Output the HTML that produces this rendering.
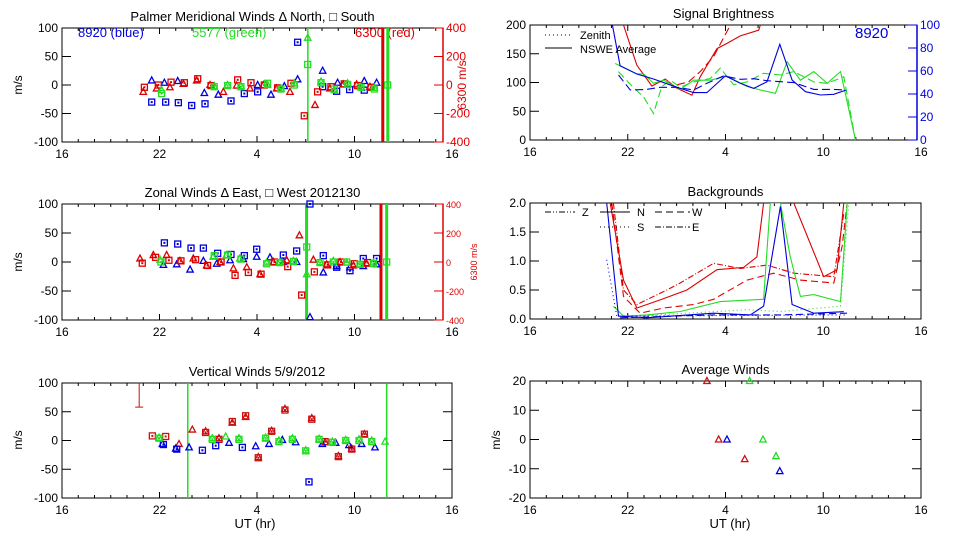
<!DOCTYPE html>
<html><head><meta charset="utf-8"><style>
html,body{margin:0;padding:0;background:#fff;}
svg{display:block;font-family:"Liberation Sans",sans-serif;}
</style></head><body>
<svg id="chart" width="960" height="540" viewBox="0 0 960 540" xmlns="http://www.w3.org/2000/svg"></svg>
<script>
// ---------- DATA (x in hours elapsed since 16 UT; labels 16,22,4,10,16) ----------
const xTickLabels = ["16","22","4","10","16"];
const windTicks = [100,50,0,-50,-100];
const redTicks = [400,200,0,-200,-400];
// Panel 1: meridional
const m_bsT=[5.52,6.38,7.16,7.98,8.80,10.40,11.22,12.04,14.50,16.04,16.90,17.70,18.60];
const m_bsV=[-30,-30,-31,-36,-33,-28,-15,-12,75,-3,-11,-8,-9];
const m_btT=[5.52,6.30,7.12,8.76,9.62,12.04,12.86,13.68,14.50,16.04,16.96,18.60,19.36];
const m_btV=[8,4,7,-14,-17,0,-17,-2,10,25,4,7,4];
const m_rsT=[5.07,5.93,6.71,7.53,8.35,9.17,10.81,11.63,12.45,13.27,14.09,14.91,15.73,16.55,17.37,18.19,19.01];
const m_rsV=[-16,0,20,16,44,-4,36,16,0,-20,12,-216,-48,-12,8,-4,-16];
const m_rtT=[5.00,5.82,6.64,7.47,8.29,9.11,9.93,10.75,11.57,12.39,13.21,14.03,15.57,16.49,17.31,18.13,18.95];
const m_rtV=[-48,-24,-16,8,32,0,-48,-4,-24,0,-24,-48,-140,-24,4,4,-12];
const m_gsT=[6.13,9.37,10.19,11.01,12.65,13.47,14.30,15.12,15.94,16.76,17.58,18.40,19.22,20.04];
const m_gsV=[-15,-3,-1,-3,3,-7,0,36,4,-7,1,-4,-7,0];
const m_gtT=[6.13,9.37,10.19,11.01,12.65,13.47,14.30,15.12,15.94,16.76,17.58,18.40,19.22];
const m_gtV=[-9,-2,0,-2,0,-6,3,83,6,-9,3,-3,-5];
// Panel 2: zonal
const z_bsT=[6.30,7.12,7.94,8.70,9.58,10.40,11.22,11.98,13.62,14.44,15.26,16.08,16.90,17.72,18.54,19.36];
const z_bsV=[33,31,24,24,15,13,11,22,12,19,100,11,-9,-15,6,6];
const z_btT=[6.24,7.06,7.88,8.70,9.52,10.34,11.16,11.98,12.80,13.62,14.44,15.26,16.08,16.90,17.72,18.54,19.36];
const z_btV=[-5,-4,-13,2,-3,3,5,9,8,0,0,-95,-18,-7,-9,-7,-4];
const z_rsT=[4.94,5.76,6.58,7.32,8.22,8.96,9.79,10.65,11.47,12.25,13.07,13.89,14.75,15.53,16.35,17.17,17.99,18.81];
const z_rsV=[-8,32,12,8,16,-24,0,-92,-72,-84,0,-32,-228,-68,-20,0,-12,-4];
const z_rtT=[4.80,5.62,6.44,7.26,8.08,8.90,9.73,10.55,11.37,12.19,13.01,13.83,14.61,15.47,16.29,17.11,17.93,18.75];
const z_rtV=[24,48,48,8,24,-24,0,-44,-36,-84,0,12,184,16,-16,0,-24,-12];
const z_gsT=[6.09,9.37,10.19,11.01,12.59,13.41,14.24,15.06,15.88,16.70,17.52,18.34,19.16,19.98];
const z_gsV=[0,11,12,5,-3,-1,1,26,-1,0,0,-4,-3,0];
const z_gtT=[6.03,9.30,10.12,10.94,12.59,13.41,14.24,15.06,15.88,16.70,17.52,18.34,19.16];
const z_gtV=[4,9,12,6,-1,0,2,-21,0,2,-1,-4,-1];
// Panel 3: vertical
const v_rsT=[5.56,6.38,8.84,9.66,10.48,11.30,12.08,12.90,13.72,15.37,16.19,17.01,17.83,18.61];
const v_rsV=[8,7,14,2,33,43,-30,16,53,37,-2,-28,-15,11];
const v_rtT=[7.20,8.02,8.84,9.66,10.48,11.30,12.08,12.90,13.72,15.37,16.19,17.01,17.83,18.61];
const v_rtV=[-6,19,16,4,31,41,-29,17,55,39,-3,-27,-14,11];
const v_bsT=[6.24,7.06,8.64,9.46,11.10,15.20];
const v_bsV=[-7,-15,-17,-9,-12,-72];
const v_btT=[6.18,7.00,7.82,10.28,11.92,12.74,13.56,14.38,16.02,16.84,17.66,18.44,19.26];
const v_btV=[-6,-14,-12,-4,-10,-6,1,-3,-6,-4,-8,-6,-12];
const v_gsT=[5.97,9.25,10.89,12.53,13.35,14.18,15.00,15.82,16.64,17.46,18.28,19.06];
const v_gsV=[4,2,2,4,-2,2,-18,2,-3,0,0,-2];
const v_gtT=[5.97,9.25,10.07,10.89,12.53,13.35,14.18,15.00,15.82,16.64,17.46,18.28,19.06,19.88];
const v_gtV=[5,4,7,4,5,0,4,-17,3,-2,1,2,0,-2];
// Panel 4: brightness
const b_rsT=[5.74,6.56,7.48,8.30,9.02,9.94,10.45,11.48,12.09,12.91,14.04,14.14];
const b_rsV=[200,130,94,106,90,78,110,159,168,181,191,200];
const b_rdT=[9.02,9.73,10.45,11.27,12.30];
const b_rdV=[96,101,119,145,200];
const b_bsT=[5.06,5.53,6.56,7.58,9.02,10.04,10.86,11.99,12.91,13.73,14.55,15.33,16.09,16.91,17.83,18.65,19.41];
const b_bsV=[100,64.6,57.4,53,45.8,41.2,41.2,55.7,49.3,44.9,50.7,83.2,52.2,42,39.1,39.7,43.5];
const b_bdT=[5.43,6.15,7.17,7.99,9.02,10.04,10.86,11.89,12.91,13.73,14.55,15.37,16.19,17.42,18.65,19.36];
const b_bdV=[56.5,43.5,44,45.8,45.8,43.5,49.3,55.7,52.8,53.3,51.6,50.7,49.9,44,44,43.5];
const b_gsT=[5.23,6.56,6.97,7.58,8.20,9.22,10.04,11.07,12.09,13.32,14.14,15.06,15.78,16.60,17.42,18.24,19.06,19.98];
const b_gsV=[133,115,115,98.6,104,88,104,104,111,93,87,81,136,104,119,98.6,119,0];
const b_gdT=[5.43,6.35,6.97,7.58,8.09,8.61,9.22,10.04,11.07,11.68,12.50,13.32,14.34,15.37,16.19,17.42,18.24,19.26,19.98];
const b_gdV=[119,91,75,46,93,104,92,101,107,125,96,101,116,113,119,101,98.6,110,0];
// Panel 5: backgrounds
const g_rsT=[4.92,5.74,6.56,7.99,9.63,11.48,13.11,13.93,14.34];
const g_rsV=[2.0,0.67,0.19,0.33,0.50,0.85,0.89,1.07,2.0];
const g_rs2T=[16.19,18.03,18.85,19.26];
const g_rs2V=[2.0,0.73,0.85,2.0];
const g_rdT=[5.02,5.74,6.76,8.20,10.04,11.27,13.32,14.96,16.60,18.65,19.16,19.47];
const g_rdV=[2.0,0.39,0.10,0.19,0.25,0.34,0.67,0.79,0.67,0.62,1.25,2.0];
const g_rddT=[5.12,5.74,6.56,8.40,9.22,11.27,12.91,14.55,16.19,18.65,19.26];
const g_rddV=[2.0,0.50,0.25,0.50,0.62,0.96,0.87,0.93,0.79,0.73,1.82];
const g_gsT=[5.12,5.74,7.17,9.22,11.68,14.34,14.75,15.37,15.98,16.60,17.42,19.06,19.47];
const g_gsV=[0.22,0.05,0.07,0.13,0.30,0.34,2.0,2.0,1.07,0.39,0.42,0.30,2.0];
const g_gdT=[6.56,13.32,15.37,19.06,19.57];
const g_gdV=[0.05,0.16,0.13,0.22,2.0];
const g_bsT=[4.71,5.43,7.17,11.27,13.52,14.34,15.37,16.09,17.42,19.26];
const g_bsV=[2.0,0.05,0.02,0.10,0.07,0.22,1.94,0.25,0.10,0.126];
const g_bdT=[5.53,11.27,15.37,19.47];
const g_bdV=[0.02,0.07,0.07,0.10];
const g_bdotT=[4.71,5.33,19.47];
const g_bdotV=[1.02,0.05,0.07];
// Panel 6: average winds
const a_rT=[10.86,11.58,13.18];
const a_rV=[20,0,-6.7];
const a_bT=[12.09,15.33];
const a_bV=[0,-10.8];
const a_gT=[13.48,14.30,15.10];
const a_gV=[20,0,-5.7];

// ---------- DRAWING ----------
const svg=document.getElementById('chart');
const NS='http://www.w3.org/2000/svg';
const BLUE='#0000dd',GREEN='#22dd22',RED='#dd0000',BR='#cc1010';
function mk(tag,attrs,parent){const e=document.createElementNS(NS,tag);for(const k in attrs)e.setAttribute(k,attrs[k]);(parent||svg).appendChild(e);return e;}
function txt(s,x,y,attrs,parent){const e=mk('text',Object.assign({x:x,y:y,'font-size':12,fill:'#000'},attrs||{}),parent);e.textContent=s;return e;}
function axes(P){return {X:t=>P.sx0+(t/24)*(P.sx1-P.sx0),Y:v=>P.y1-(v-P.vmin)/(P.vmax-P.vmin)*(P.y1-P.y0)};}

function frame(P,name,title,yLabels,yVals){
  const g=mk('g',{});
  
  
  const A=axes(P);
  const r=mk('rect',{x:P.fx0,y:P.y0,width:P.fx1-P.fx0,height:P.y1-P.y0,fill:'none',stroke:'#000','stroke-width':1},g);
  
  
  const tt=txt(title,(P.fx0+P.fx1)/2,P.y0-7,{'text-anchor':'middle','font-size':13},g);
  
  
  for(let h=0;h<=24;h++){
    const x=A.X(h); if(x>P.fx1+0.5) continue;
    const L=(h%6===0)?6:3;
    mk('line',{x1:x,y1:P.y1,x2:x,y2:P.y1-L,stroke:'#000'},g);
    mk('line',{x1:x,y1:P.y0,x2:x,y2:P.y0+L,stroke:'#000'},g);
  }
  xTickLabels.forEach((s,i)=>{const l=txt(s,A.X(i*6),P.y1+16,{'text-anchor':'middle'},g);
    
    });
  yVals.forEach((v,i)=>{const y=A.Y(v);
    mk('line',{x1:P.fx0,y1:y,x2:P.fx0+9,y2:y,stroke:'#000'},g);
    if(!P.rightAxis) mk('line',{x1:P.fx1,y1:y,x2:P.fx1-9,y2:y,stroke:'#000'},g);
    const l=txt(yLabels[i],P.fx0-4,y+4,{'text-anchor':'end'},g);
    
    });
  return A;
}
function ylab(s,x,y,color,size,name){const e=txt(s,x,y,{'text-anchor':'middle',transform:`rotate(-90 ${x} ${y})`,fill:color||'#000','font-size':size||12});
  
  }
function rightAxis(P,ticks,vmin,vmax,color,fs,name){
  const g=mk('g',{});
  
  
  mk('line',{x1:P.fx1,y1:P.y0,x2:P.fx1,y2:P.y1,stroke:color,'stroke-width':1.5},g);
  ticks.forEach(v=>{const y=P.y1-(v-vmin)/(vmax-vmin)*(P.y1-P.y0);
    mk('line',{x1:P.fx1,y1:y,x2:P.fx1-9,y2:y,stroke:color},g);
    txt(String(v),P.fx1+3,y+4,{fill:color,'font-size':fs},g);});
}
function sq(x,y,c,g){mk('rect',{x:x-3,y:y-3,width:6,height:6,fill:'none',stroke:c,'stroke-width':1.3},g);mk('rect',{x:x-1,y:y-1,width:2,height:2,fill:c},g);}
function tri(x,y,c,g){mk('path',{d:`M${x-3.2},${y+2.5}L${x},${y-3.5}L${x+3.2},${y+2.5}Z`,fill:'none',stroke:c,'stroke-width':1.3},g);}
function markers(T,V,X,Y,c,shape,name){const g=mk('g',{});
  
  
  T.forEach((t,i)=>{const v=V[i];shape(X(t),Y(v),c,g);});}
function line(T,V,X,Y,c,dash,name,clip){const pts=T.map((t,i)=>X(t).toFixed(1)+','+Y(V[i]).toFixed(1)).join(' ');
  const e=mk('polyline',{points:pts,fill:'none',stroke:c,'stroke-width':1.1,'stroke-dasharray':dash||'none','clip-path':clip?`url(#${clip})`:'none'});
  
  }
function vline(x,P,c,w,name){const e=mk('line',{x1:x,y1:P.y0,x2:x,y2:P.y1,stroke:c,'stroke-width':w});
  
  }
function clipFor(id,P){const d=mk('clipPath',{id:id});mk('rect',{x:P.fx0,y:P.y0,width:P.fx1-P.fx0,height:P.y1-P.y0},d);}

// Panel 1
const P1={fx0:62,fx1:443,sx0:62,sx1:452,y0:28,y1:142,vmin:-100,vmax:100,rightAxis:true};
const A1=frame(P1,'meridional-panel','Palmer Meridional Winds \u0394 North, \u25A1 South',windTicks.map(String),windTicks);
rightAxis(P1,redTicks,-400,400,RED,12,'red-right-axis-1');
ylab('m/s',22,85,'#000',12,'y-axis-title-1');
ylab('6300 m/s',466,85,RED,12,'red-axis-title-1');
[['8920 (blue)',78,BLUE],['5577 (green)',192,GREEN],['6300 (red)',355,RED]].forEach(a=>{const e=txt(a[0],a[1],37,{fill:a[2],'font-size':13});
  
  });
const R1=v=>P1.y1-(v+400)/800*(P1.y1-P1.y0);
vline(A1.X(15.13),P1,GREEN,1.5,'green-marker-line');
vline(A1.X(19.74),P1,RED,3,'red-marker-line');
vline(A1.X(20.05),P1,GREEN,3,'green-marker-line-2');
markers(m_bsT,m_bsV,A1.X,A1.Y,BLUE,sq,'blue-south');
markers(m_btT,m_btV,A1.X,A1.Y,BLUE,tri,'blue-north');
markers(m_rsT,m_rsV,A1.X,R1,RED,sq,'red-south');
markers(m_rtT,m_rtV,A1.X,R1,RED,tri,'red-north');
markers(m_gsT,m_gsV,A1.X,A1.Y,GREEN,sq,'green-south');
markers(m_gtT,m_gtV,A1.X,A1.Y,GREEN,tri,'green-north');

// Panel 2
const P2={fx0:62,fx1:443,sx0:62,sx1:452,y0:204,y1:320,vmin:-100,vmax:100,rightAxis:true};
const A2=frame(P2,'zonal-panel','Zonal Winds \u0394 East, \u25A1 West 2012130',windTicks.map(String),windTicks);
rightAxis(P2,redTicks,-400,400,RED,9,'red-right-axis-2');
ylab('m/s',22,262,'#000',12,'y-axis-title-2');
ylab('6300 m/s',477,262,RED,9,'red-axis-title-2');
const R2=v=>P2.y1-(v+400)/800*(P2.y1-P2.y0);
vline(A2.X(15.05),P2,GREEN,3,'green-marker-line');
vline(A2.X(19.63),P2,RED,3,'red-marker-line');
vline(A2.X(19.98),P2,GREEN,3,'green-marker-line-2');
markers(z_bsT,z_bsV,A2.X,A2.Y,BLUE,sq,'blue-west');
markers(z_btT,z_btV,A2.X,A2.Y,BLUE,tri,'blue-east');
markers(z_rsT,z_rsV,A2.X,R2,RED,sq,'red-west');
markers(z_rtT,z_rtV,A2.X,R2,RED,tri,'red-east');
markers(z_gsT,z_gsV,A2.X,A2.Y,GREEN,sq,'green-west');
markers(z_gtT,z_gtV,A2.X,A2.Y,GREEN,tri,'green-east');

// Panel 3
const P3={fx0:62,fx1:452,sx0:62,sx1:452,y0:383,y1:498,vmin:-100,vmax:100};
const A3=frame(P3,'vertical-panel','Vertical Winds 5/9/2012',windTicks.map(String),windTicks);
ylab('m/s',22,440,'#000',12,'y-axis-title-3');
const xt3=txt('UT (hr)',255,528,{'text-anchor':'middle','font-size':13});


vline(A3.X(7.74),P3,GREEN,1.5,'green-marker-line');
vline(A3.X(19.98),P3,GREEN,1.5,'green-marker-line-2');
mk('path',{d:`M${A3.X(4.75)},${A3.Y(100)}V${A3.Y(58)}M${A3.X(4.75)-4},${A3.Y(58)}h8`,stroke:BR,fill:'none'});
markers(v_rsT,v_rsV,A3.X,A3.Y,BR,sq,'red-vertical-sq');
markers(v_rtT,v_rtV,A3.X,A3.Y,BR,tri,'red-vertical-tri');
markers(v_bsT,v_bsV,A3.X,A3.Y,BLUE,sq,'blue-vertical-sq');
markers(v_btT,v_btV,A3.X,A3.Y,BLUE,tri,'blue-vertical-tri');
markers(v_gsT,v_gsV,A3.X,A3.Y,GREEN,sq,'green-vertical-sq');
markers(v_gtT,v_gtV,A3.X,A3.Y,GREEN,tri,'green-vertical-tri');

// Panel 4
const P4={fx0:530,fx1:917,sx0:530,sx1:921,y0:25,y1:140,vmin:0,vmax:200,rightAxis:true};
const b4=[200,150,100,50,0];
const A4=frame(P4,'brightness-panel','Signal Brightness',b4.map(String),b4);
rightAxis(P4,[100,80,60,40,20,0],0,100,BLUE,12,'blue-right-axis');
clipFor('c4',P4);
const B4=v=>P4.y1-v/100*(P4.y1-P4.y0);
line(b_rsT,b_rsV,A4.X,A4.Y,RED,null,'red-nswe-line','c4');
line(b_rdT,b_rdV,A4.X,A4.Y,RED,'8,4','red-zenith-line','c4');
line(b_gsT,b_gsV,A4.X,A4.Y,GREEN,null,'green-nswe-line','c4');
line(b_gdT,b_gdV,A4.X,A4.Y,GREEN,'8,4','green-zenith-line','c4');
line(b_bsT,b_bsV,A4.X,B4,BLUE,null,'blue-nswe-line','c4');
line(b_bdT,b_bdV,A4.X,B4,BLUE,'8,4','blue-zenith-line','c4');
mk('line',{x1:545,y1:35,x2:572,y2:35,stroke:'#000','stroke-dasharray':'1,3'});
mk('line',{x1:545,y1:48,x2:572,y2:48,stroke:'#000'});
const lz=txt('Zenith',580,39,{'font-size':11});


const ln=txt('NSWE Average',580,53,{'font-size':11});


const l89=txt('8920',855,38,{fill:BLUE,'font-size':15});



// Panel 5
const P5={fx0:530,fx1:921,sx0:530,sx1:921,y0:203,y1:319,vmin:0,vmax:2};
const b5=[2.0,1.5,1.0,0.5,0.0];
const A5=frame(P5,'backgrounds-panel','Backgrounds',b5.map(v=>v.toFixed(1)),b5);
clipFor('c5',P5);
line(g_rsT,g_rsV,A5.X,A5.Y,RED,null,'red-bg-n','c5');
line(g_rs2T,g_rs2V,A5.X,A5.Y,RED,null,'red-bg-n2','c5');
line(g_rdT,g_rdV,A5.X,A5.Y,RED,'7,4','red-bg-w','c5');
line(g_rddT,g_rddV,A5.X,A5.Y,RED,'6,2,1,2','red-bg-e','c5');
line(g_gsT,g_gsV,A5.X,A5.Y,GREEN,null,'green-bg-n','c5');
line(g_gdT,g_gdV,A5.X,A5.Y,GREEN,'1,3','green-bg-s','c5');
line(g_bsT,g_bsV,A5.X,A5.Y,BLUE,null,'blue-bg-n','c5');
line(g_bdT,g_bdV,A5.X,A5.Y,BLUE,'7,4','blue-bg-w','c5');
line(g_bdotT,g_bdotV,A5.X,A5.Y,BLUE,'1,3','blue-bg-s','c5');
[[545,575,212,'6,2,1,2,1,2','Z',580],[600,630,212,null,'N',635],[655,690,212,'7,4','W',690],[600,630,227,'1,3','S',635],[655,690,227,'6,2,1,2','E',690]].forEach(a=>{
  mk('line',{x1:a[0],y1:a[2],x2:a[1],y2:a[2],stroke:'#000','stroke-dasharray':a[3]||'none'});
  const e=txt(a[4],a[5]+2,a[2]+4,{'font-size':11});
  
  });

// Panel 6
const P6={fx0:530,fx1:921,sx0:530,sx1:921,y0:381,y1:498,vmin:-20,vmax:20};
const b6=[20,10,0,-10,-20];
const A6=frame(P6,'average-winds-panel','Average Winds',b6.map(String),b6);
ylab('m/s',500,440,'#000',12,'y-axis-title-6');
const xt6=txt('UT (hr)',730,528,{'text-anchor':'middle','font-size':13});


markers(a_rT,a_rV,A6.X,A6.Y,BR,tri,'red-average');
markers(a_bT,a_bV,A6.X,A6.Y,BLUE,tri,'blue-average');
markers(a_gT,a_gV,A6.X,A6.Y,GREEN,tri,'green-average');
</script>
</body></html>
